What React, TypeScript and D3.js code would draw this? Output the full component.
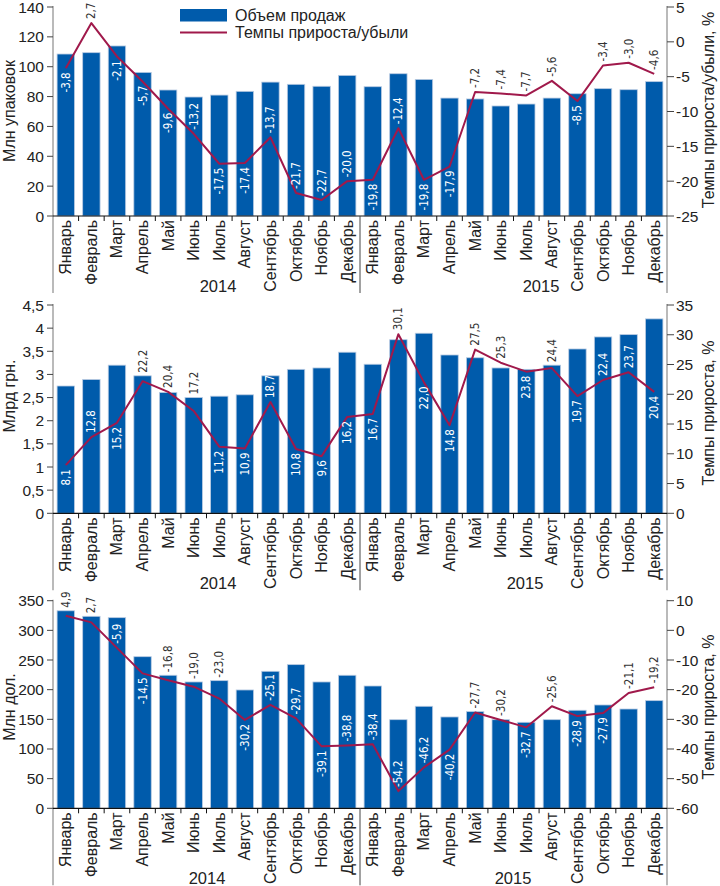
import React from 'react';
import * as d3 from 'd3';

const months = ['Январь','Февраль','Март','Апрель','Май','Июнь','Июль','Август','Сентябрь','Октябрь','Ноябрь','Декабрь'];
const years = ['2014','2015'];
const categories = years.flatMap(y => months.map(m => `${m} ${y}`));

const legendLabels = ['Объем продаж','Темпы прироста/убыли'];

// Chart 1 — packages
const packVolume = [108.5,109.4,113.9,96.2,84.4,79.7,81,83.5,89.7,88.2,86.9,94.2,86.6,95.3,91.5,79,78.4,73.7,75,79,81.9,85.3,84.6,90];
const packGrowth = [-3.8,2.7,-2.1,-5.7,-9.6,-13.2,-17.5,-17.4,-13.7,-21.7,-22.7,-20.0,-19.8,-12.4,-19.8,-17.9,-7.2,-7.4,-7.7,-5.6,-8.5,-3.4,-3.0,-4.6];
const packLabelPos = ['wb','da','wb','wb','wb','wa','wb','wb','wa','wa','wa','wa','wb','wa','wb','wb','da','da','da','da','wb','da','da','da'];
const packTicks = [0,20,40,60,80,100,120,140];
const packGrowthTicks = [-25,-20,-15,-10,-5,0,5];

// Chart 2 — UAH
const uahVolume = [2.75,2.89,3.2,2.97,2.61,2.5,2.53,2.56,2.97,3.11,3.14,3.48,3.22,3.75,3.89,3.42,3.36,3.14,3.11,3.2,3.55,3.81,3.86,4.2];
const uahGrowth = [8.1,12.8,15.2,22.2,20.4,17.2,11.2,10.9,18.7,10.8,9.6,16.2,16.7,30.1,22.0,14.8,27.5,25.3,23.8,24.4,19.7,22.4,23.7,20.4];
const uahLabelPos = ['wb','wa','wb','da','da','da','wb','wb','wa','wb','wb','wb','wb','da','wb','wb','da','da','wb','da','wb','wa','wa','wb'];
const uahTicks = [0,0.5,1,1.5,2,2.5,3,3.5,4,4.5];
const uahGrowthTicks = [0,5,10,15,20,25,30,35];

// Chart 3 — USD
const usdVolume = [333,323.7,321.4,255.6,224.3,213,215.2,199.5,231,242.2,213,224.3,206.2,149.4,172,154,163,149.4,145,149.4,165.3,174.2,167.4,181.5];
const usdGrowth = [4.9,2.7,-5.9,-14.5,-16.8,-19.0,-23.0,-30.2,-25.1,-29.7,-39.1,-38.8,-38.4,-54.2,-46.2,-40.2,-27.7,-30.2,-32.7,-25.6,-28.9,-27.9,-21.1,-19.2];
const usdLabelPos = ['da','da','wa','wb','da','da','da','wb','wa','wa','wb','wa','wa','wa','wa','wb','da','da','wb','da','wb','wb','da','da'];
const usdTicks = [0,50,100,150,200,250,300,350];
const usdGrowthTicks = [-60,-50,-40,-30,-20,-10,0,10];

const BAR = '#005bab';
const LINE = '#a0194b';
const FONT = "'Liberation Sans', Arial, sans-serif";
const NARROW = "'Liberation Sans Narrow','DejaVu Sans Condensed','Arial Narrow',sans-serif";

const X0 = 53;
const X1 = 667;

const fmt = (v: number) => String(v).replace('.', ',');
const fmt1 = (v: number) => v.toFixed(1).replace('.', ',');

type ChartProps = {
  top: number;
  bottom: number;
  volume: number[];
  growth: number[];
  labelPos: string[];
  leftTicks: number[];
  rightTicks: number[];
  leftTitle: string;
  rightTitle: string;
  leftTitleY: number;
  rightTitleY: number;
  yearX: number[];
  legend?: boolean;
};

function Chart(p: ChartProps) {
  const x = d3.scaleBand<string>().domain(categories).range([X0, X1]).paddingInner(0.32).paddingOuter(0.16);
  const yL = d3.scaleLinear().domain([p.leftTicks[0], p.leftTicks[p.leftTicks.length - 1]]).range([p.bottom, p.top]);
  const yR = d3.scaleLinear().domain([p.rightTicks[0], p.rightTicks[p.rightTicks.length - 1]]).range([p.bottom, p.top]);
  const step = (X1 - X0) / categories.length;
  const cx = (i: number) => (x(categories[i]) as number) + x.bandwidth() / 2;
  const line = d3.line<number>().x((_, i) => cx(i)).y(v => yR(v));
  const lowEnd = p.bottom + 77;

  return (
    <g>
      {p.volume.map((v, i) => (
        <rect key={'b' + i} x={x(categories[i])} y={yL(v)} width={x.bandwidth()} height={p.bottom - yL(v)}
          fill={BAR} stroke="#b9cbe2" strokeWidth={0.8} />
      ))}
      <path d={line(p.growth) || ''} fill="none" stroke={LINE} strokeWidth={2} strokeLinejoin="round" />
      {p.growth.map((v, i) => {
        const pos = p.labelPos[i];
        const py = yR(v);
        const white = pos[0] === 'w';
        const below = pos[1] === 'b';
        const barTop = yL(p.volume[i]);
        const ty = below ? py + 4 : (white ? py - 4 : Math.min(py - 4, barTop - 3));
        return (
          <text key={'l' + i} transform={`translate(${cx(i) + 4},${ty}) rotate(-90)`}
            textAnchor={below ? 'end' : 'start'} fontFamily={NARROW} fontSize={11.5}
            fill={white ? '#ffffff' : '#333333'}>{fmt1(v)}</text>
        );
      })}
      <line x1={X0} x2={X0} y1={p.top - 1} y2={lowEnd} stroke="#8c8c8c" strokeWidth={1.2} />
      <line x1={X1} x2={X1} y1={p.top - 1} y2={lowEnd} stroke="#8c8c8c" strokeWidth={1.2} />
      {p.leftTicks.map(t => (
        <g key={'lt' + t}>
          <line x1={X0 - 6} x2={X0} y1={yL(t)} y2={yL(t)} stroke="#444" strokeWidth={1} />
          <text x={X0 - 9} y={yL(t) + 5.5} textAnchor="end" fontFamily={FONT} fontSize={15.5} fill="#222">{fmt(t)}</text>
        </g>
      ))}
      {p.rightTicks.map(t => (
        <g key={'rt' + t}>
          <line x1={X1} x2={X1 + 7} y1={yR(t)} y2={yR(t)} stroke="#444" strokeWidth={1} />
          <text x={X1 + 9} y={yR(t) + 5.5} textAnchor="start" fontFamily={FONT} fontSize={15.5} fill="#222">{fmt(t)}</text>
        </g>
      ))}
      <text transform={`translate(15,${p.leftTitleY}) rotate(-90)`} textAnchor="middle" fontFamily={FONT} fontSize={16} fill="#222">{p.leftTitle}</text>
      <text transform={`translate(714,${p.rightTitleY}) rotate(-90)`} textAnchor="middle" fontFamily={FONT} fontSize={16} fill="#222">{p.rightTitle}</text>
      <line x1={X0} x2={X1} y1={p.bottom} y2={p.bottom} stroke="#111" strokeWidth={1.2} />
      {d3.range(1, categories.length).filter(k => k !== 12).map(k => (
        <line key={'ct' + k} x1={X0 + k * step} x2={X0 + k * step} y1={p.bottom} y2={p.bottom + 5} stroke="#111" strokeWidth={1} />
      ))}
      <line x1={X0 + 12 * step} x2={X0 + 12 * step} y1={p.bottom} y2={lowEnd} stroke="#444" strokeWidth={1} />
      {categories.map((c, i) => (
        <text key={'m' + i} transform={`translate(${cx(i) + 5.5},${p.bottom + 4}) rotate(-90)`} textAnchor="end"
          fontFamily={FONT} fontSize={16} fill="#222">{months[i % 12]}</text>
      ))}
      {years.map((y, i) => (
        <text key={'y' + y} x={p.yearX[i]} y={p.bottom + 76} textAnchor="middle" fontFamily={FONT} fontSize={16.5} fill="#222">{y}</text>
      ))}
      {p.legend && (
        <g>
          <rect x={180} y={9} width={47} height={12.5} fill={BAR} />
          <line x1={180} x2={227} y1={32.5} y2={32.5} stroke={LINE} strokeWidth={2} />
          <text x={235} y={20.5} fontFamily={FONT} fontSize={16} fill="#222">{legendLabels[0]}</text>
          <text x={235} y={37.5} fontFamily={FONT} fontSize={16} fill="#222">{legendLabels[1]}</text>
        </g>
      )}
    </g>
  );
}

export default function App() {
  return (
    <svg width={720} height={886} viewBox="0 0 720 886"
      style={{ position: 'absolute', left: 0, top: 0, background: '#fff' }}>
      <rect x={0} y={0} width={720} height={886} fill="#fff" />
      <Chart top={7} bottom={216} volume={packVolume} growth={packGrowth} labelPos={packLabelPos}
        leftTicks={packTicks} rightTicks={packGrowthTicks} leftTitle="Млн упаковок" rightTitle="Темпы прироста/убыли, %"
        leftTitleY={111} rightTitleY={110} yearX={[218, 541]} legend />
      <Chart top={305} bottom={513.3} volume={uahVolume} growth={uahGrowth} labelPos={uahLabelPos}
        leftTicks={uahTicks} rightTicks={uahGrowthTicks} leftTitle="Млрд грн." rightTitle="Темпы прироста, %"
        leftTitleY={396} rightTitleY={413} yearX={[218, 525]} />
      <Chart top={600.7} bottom={808.3} volume={usdVolume} growth={usdGrowth} labelPos={usdLabelPos}
        leftTicks={usdTicks} rightTicks={usdGrowthTicks} leftTitle="Млн дол." rightTitle="Темпы прироста, %"
        leftTitleY={707} rightTitleY={707} yearX={[207, 513]} />
    </svg>
  );
}
